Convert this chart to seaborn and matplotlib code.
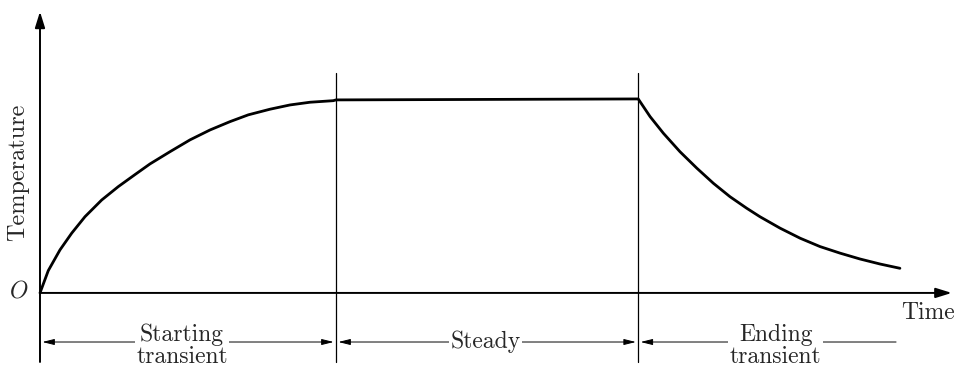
import numpy as np
import pandas as pd
import matplotlib
matplotlib.use("Agg")
import matplotlib.pyplot as plt
import seaborn as sns

# ---- data (arbitrary units) ----
rise_t = [0.0, 0.28, 0.676, 1.071, 1.52, 2.084, 2.645, 3.209, 3.716, 4.392,
          5.068, 5.743, 6.419, 7.037, 7.77, 8.446, 9.122, 9.909, 10.0]
rise_T = [0.0, 0.115, 0.222, 0.308, 0.393, 0.479, 0.548, 0.610, 0.665, 0.728,
          0.789, 0.840, 0.883, 0.918, 0.947, 0.969, 0.983, 0.991, 0.995]
steady_t = [10.0, 20.21]
steady_T = [0.995, 1.0]
fall_t = [20.21, 20.61, 21.06, 21.62, 22.19, 22.75, 23.31, 23.87, 24.32,
          25.0, 25.68, 26.35, 27.03, 27.7, 28.38, 29.05]
fall_T = [1.0, 0.909, 0.823, 0.728, 0.643, 0.565, 0.496, 0.437, 0.393,
          0.334, 0.282, 0.239, 0.205, 0.175, 0.149, 0.127]
boundaries = [0.0, 10.0, 20.21]
phase_labels = ["Starting\ntransient", "Steady", "Ending\ntransient"]
phase_ends = [10.0, 20.21, 29.0]
label_x = [4.8, 15.05, 24.85]

df = pd.DataFrame({
    "Time": rise_t + steady_t + fall_t,
    "Temperature": rise_T + steady_T + fall_T,
})

sns.set_theme(style="white")
plt.rcParams["font.family"] = ["cmr10", "DejaVu Serif"]
plt.rcParams["axes.unicode_minus"] = False

fig = plt.figure(figsize=(9.6, 3.68), dpi=100)
ax = fig.add_axes([0, 0, 1, 1])
ax.set_xlim(-1.351, 31.08)
ax.set_ylim(-0.387, 1.510)
ax.axis("off")

sns.lineplot(data=df, x="Time", y="Temperature", ax=ax, color="black",
             lw=2.0, sort=False, estimator=None)

# axes with arrows
ax.annotate("", xy=(30.8, 0), xytext=(0, 0),
            arrowprops=dict(arrowstyle="-|>,head_length=0.8,head_width=0.25",
                            color="black", lw=1.4, shrinkA=0, shrinkB=0))
ax.annotate("", xy=(0, 1.45), xytext=(0, -0.356),
            arrowprops=dict(arrowstyle="-|>,head_length=0.8,head_width=0.25",
                            color="black", lw=1.4, shrinkA=0, shrinkB=0))

# vertical boundary lines
for b in boundaries[1:]:
    ax.plot([b, b], [-0.356, 1.134], color="black", lw=0.9)

# phase arrows and labels
arrow_y = -0.253
for i, (s, e, lab, cx) in enumerate(zip(boundaries, phase_ends, phase_labels, label_x)):
    style = ("<|-|>,head_length=0.6,head_width=0.15" if i < 2
             else "<|-,head_length=0.6,head_width=0.15")
    ax.annotate("", xy=(e - 0.08, arrow_y), xytext=(s + 0.08, arrow_y),
                arrowprops=dict(arrowstyle=style, color="black", lw=0.7,
                                shrinkA=0, shrinkB=0))
    ax.text(cx, -0.272 if "\n" in lab else -0.253, lab, ha="center", va="center",
            fontsize=17, linespacing=1.0,
            bbox=dict(facecolor="white", edgecolor="none", pad=1.0))

ax.text(-0.74, 0.624, "Temperature", rotation=90, ha="center", va="center", fontsize=17.5)
ax.text(-0.72, 0.0, "O", ha="center", va="center", fontsize=17,
        family=["cmmi10", "DejaVu Serif"])
ax.text(30.0, -0.103, "Time", ha="center", va="center", fontsize=17)

fig.savefig("out.png", dpi=100)
